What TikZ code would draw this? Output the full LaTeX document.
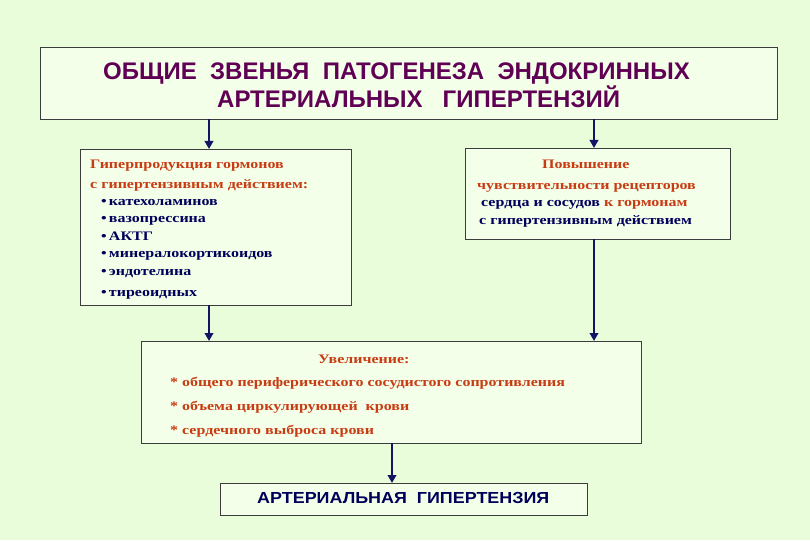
\documentclass[tikz,border=0pt]{standalone}
\usepackage{fontspec}
\usetikzlibrary{arrows.meta}
\setmainfont[FakeStretch=1.23]{Liberation Serif}
\newfontfamily\titlefont{Liberation Sans}
\newfontfamily\bottomfont[FakeStretch=1.12]{Liberation Sans}
\definecolor{bgc}{RGB}{234,253,218}
\definecolor{boxc}{RGB}{243,255,232}
\definecolor{framec}{RGB}{60,60,60}
\definecolor{titlec}{RGB}{96,0,84}
\definecolor{headc}{RGB}{200,60,20}
\definecolor{navyc}{RGB}{0,0,90}
\definecolor{arrc}{RGB}{20,20,100}
\begin{document}
\begin{tikzpicture}[x=1pt,y=-1pt,
  panel/.style={draw=framec,fill=boxc,line width=0.8pt},
  flow/.style={draw=arrc,line width=2.2pt,-{Triangle[length=8pt,width=8.5pt]}},
  txt/.style={inner sep=0pt,anchor=base west,font=\bfseries\fontsize{13}{15}\selectfont},
  ttl/.style={inner sep=0pt,anchor=base west,text=titlec,font=\titlefont\bfseries\fontsize{24}{28}\selectfont}]
\useasboundingbox[fill=bgc] (0,0) rectangle (810,540);
% boxes
\path[panel] (40,47) rectangle (777,119);
\coordinate (topL) at (209,119);
\coordinate (topR) at (594,119);
\path[panel] (80,149) rectangle (351,305);
\path[panel] (465,148) rectangle (730,239);
\path[panel] (141,341) rectangle (641,443);
\path[panel] (220,483) rectangle (587,515);
\coordinate (lt) at (209,149);
\coordinate (lb) at (209,305);
\coordinate (rt) at (594,148);
\coordinate (rb) at (594,239);
\coordinate (mtl) at (209,341);
\coordinate (mtr) at (594,341);
\coordinate (mb) at (392,443);
\coordinate (bt) at (392,483);
% title
\node[ttl] (t1) at (103,80) {ОБЩИЕ\ \ ЗВЕНЬЯ\ \ ПАТОГЕНЕЗА\ \ ЭНДОКРИННЫХ};
\node[ttl] (t2) at (217,108) {АРТЕРИАЛЬНЫХ\ \ \ ГИПЕРТЕНЗИЙ};
% left box
\node[txt,text=headc] (l1) at (90,168) {Гиперпродукция гормонов};
\node[txt,text=headc] (l2) at (90,188) {с гипертензивным действием:};
\node[txt,text=navyc] (l3) at (101,205) {\textbullet\,катехоламинов};
\node[txt,text=navyc] (l4) at (101,222) {\textbullet\,вазопрессина};
\node[txt,text=navyc] (l5) at (101,240) {\textbullet\,АКТГ};
\node[txt,text=navyc] (l6) at (101,257) {\textbullet\,минералокортикоидов};
\node[txt,text=navyc] (l7) at (101,275) {\textbullet\,эндотелина};
\node[txt,text=navyc] (l8) at (101,296) {\textbullet\,тиреоидных};
% right box
\node[txt,text=headc] (r1) at (542,168) {Повышение};
\node[txt,text=headc] (r2) at (477,189) {чувствительности рецепторов};
\node[txt] (r3) at (481,206) {\textcolor{navyc}{сердца и сосудов} \textcolor{headc}{к гормонам}};
\node[txt,text=navyc] (r4) at (479,224) {с гипертензивным действием};
% middle box
\node[txt,text=headc] (m1) at (318,363) {Увеличение:};
\node[txt,text=headc] (m2) at (170,386) {* общего периферического сосудистого сопротивления};
\node[txt,text=headc] (m3) at (170,410) {* объема циркулирующей\ \ крови};
\node[txt,text=headc] (m4) at (170,434) {* сердечного выброса крови};
% bottom
\node[inner sep=0pt,anchor=base west,text=navyc,font=\bottomfont\bfseries\fontsize{16}{19}\selectfont] (b1) at (257,503) {АРТЕРИАЛЬНАЯ\ \ ГИПЕРТЕНЗИЯ};
% arrows
\draw[flow] (topL) -- (lt);
\draw[flow] (topR) -- (rt);
\draw[flow] (lb) -- (mtl);
\draw[flow] (rb) -- (mtr);
\draw[flow] (mb) -- (bt);
\end{tikzpicture}
\end{document}
